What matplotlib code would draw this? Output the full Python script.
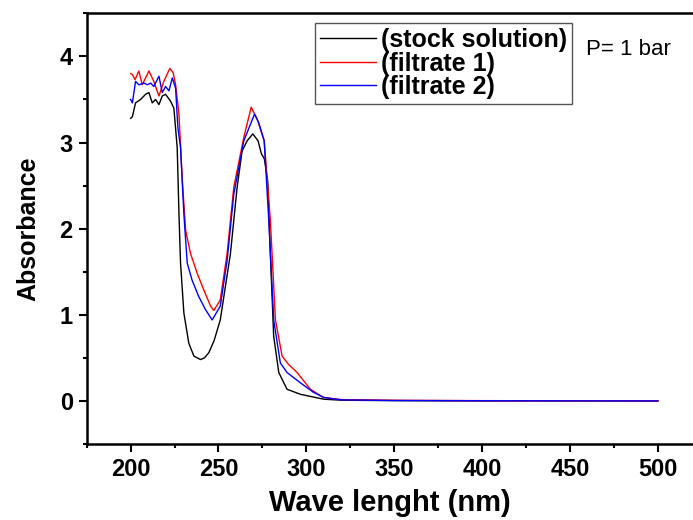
import matplotlib
matplotlib.use('Agg')
import matplotlib.pyplot as plt
from matplotlib.ticker import MultipleLocator

# wavelength (nm) / absorbance
wl_stock = [200, 201, 202.8, 205.7, 208.5, 210.4, 212.3, 214.2, 216.1, 218, 219.9, 222.7, 224.6,
            226.5, 227.5, 228.4, 230.3, 233.1, 236, 239.8, 242, 244.5, 247.5, 251, 256.8, 260.6, 263.4, 266.3,
            269.5, 272.5, 274.4, 276.1, 278, 279.5, 281.4, 284.3, 289, 296.6, 309.8, 320, 350, 400, 500]
abs_stock = [3.28, 3.3, 3.46, 3.5, 3.56, 3.58, 3.46, 3.5, 3.44, 3.54, 3.56, 3.48, 3.4,
             2.94, 2.17, 1.6, 1.02, 0.67, 0.52, 0.48, 0.5, 0.56, 0.7, 0.94, 1.71, 2.48, 2.9, 3.02,
             3.1, 3.02, 2.87, 2.81, 2.55, 1.71, 0.75, 0.33, 0.135, 0.077, 0.02, 0.008, 0.003, 0.0, 0.0]

wl_filt1 = [200, 201, 202.5, 204.7, 206.6, 210.4, 213.2, 216.1, 218.9, 222.3, 224.2, 225.6,
            227.5, 229.4, 231.3, 234.1, 237.9, 241.6, 245.5, 247.3, 251, 254.9, 258.7, 264.4,
            268.6, 272, 276, 279.5, 282.4, 286.2, 290, 294.7, 302.3, 309.8, 320, 350, 400, 500]
abs_filt1 = [3.8, 3.79, 3.73, 3.83, 3.67, 3.83, 3.71, 3.54, 3.71, 3.86, 3.81, 3.67,
             3.33, 2.56, 1.98, 1.71, 1.48, 1.29, 1.1, 1.05, 1.17, 1.71, 2.48, 3.06,
             3.41, 3.27, 3.02, 2.1, 0.94, 0.52, 0.42, 0.33, 0.135, 0.04, 0.015, 0.007, 0.003, 0.0]

wl_filt2 = [200, 201, 202.8, 204.7, 207.6, 209.5, 211.4, 213.2, 216.1, 218, 219.9, 221.8, 223.7,
            225.6, 226.9, 228.4, 230.3, 232.2, 235, 238.8, 242.6, 246.4, 251, 254.9, 258.7,
            264.4, 270.5, 272.9, 276, 278.6, 281.4, 285.2, 289, 296.6, 304, 309.8, 320, 350, 400, 500]
abs_filt2 = [3.5, 3.46, 3.71, 3.67, 3.69, 3.67, 3.69, 3.65, 3.77, 3.58, 3.65, 3.6, 3.75,
             3.63, 3.17, 2.94, 2.17, 1.6, 1.4, 1.21, 1.06, 0.94, 1.1, 1.63, 2.4,
             3.02, 3.33, 3.23, 3.02, 2.1, 0.94, 0.44, 0.33, 0.21, 0.1, 0.04, 0.012, 0.005, 0.002, 0.0]

labels = ['(stock solution)', '(filtrate 1)', '(filtrate 2)']

plt.rcParams['font.family'] = ['Liberation Sans', 'DejaVu Sans']

fig = plt.figure(figsize=(6.93, 5.2), dpi=100)
ax = fig.add_axes([0.1251, 0.1462, 0.8749, 0.8282])

ax.plot(wl_stock, abs_stock, color='black', lw=1.0, label=labels[0])
ax.plot(wl_filt1, abs_filt1, color='red', lw=1.0, label=labels[1])
ax.plot(wl_filt2, abs_filt2, color='blue', lw=1.0, label=labels[2])

ax.set_xlim(175, 520)
ax.set_ylim(-0.5, 4.5)
ax.xaxis.set_major_locator(MultipleLocator(50))
ax.xaxis.set_minor_locator(MultipleLocator(25))
ax.yaxis.set_major_locator(MultipleLocator(1))
ax.yaxis.set_minor_locator(MultipleLocator(0.5))
ax.tick_params(which='major', direction='out', length=6, width=1.5, labelsize=17, pad=4)
ax.tick_params(which='minor', direction='out', length=3, width=1.5)
for lab in ax.get_xticklabels() + ax.get_yticklabels():
    lab.set_fontweight('bold')

for side in ['left', 'bottom', 'top']:
    ax.spines[side].set_linewidth(1.8)
ax.spines['right'].set_visible(False)

ax.set_xlabel('Wave lenght (nm)', fontsize=21, fontweight='bold', labelpad=6)
ax.set_ylabel('Absorbance', fontsize=18, fontweight='bold', labelpad=14)

leg = ax.legend(loc='upper left', bbox_to_anchor=(0.3766, 0.9775), borderaxespad=0,
                fancybox=False, edgecolor='#555555', framealpha=1,
                prop={'size': 18, 'weight': 'bold'}, handlelength=2.25, handletextpad=0.2,
                labelspacing=-0.02, borderpad=0.2)
leg.get_frame().set_linewidth(1.0)

ax.text(0.824, 0.915, 'P= 1 bar', transform=ax.transAxes, fontsize=16, va='center', ha='left')

fig.savefig('out.png', dpi=100)
